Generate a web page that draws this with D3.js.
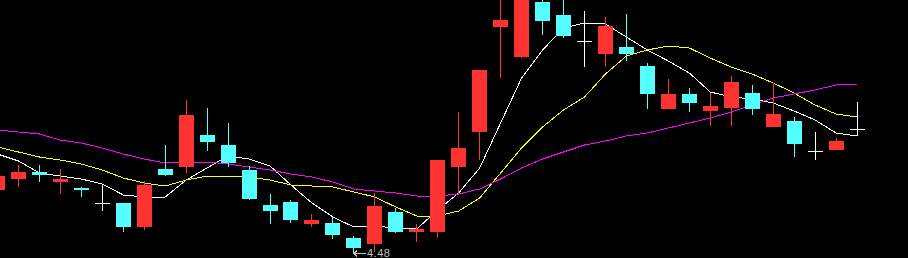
<!DOCTYPE html>
<html>
<head>
<meta charset="utf-8">
<script src="https://cdn.jsdelivr.net/npm/d3@7"></script>
<style>
    html, body { margin: 0; padding: 0; background: #000; overflow: hidden; }
    #kline { width: 908px; height: 258px; }
</style>
</head>
<body>
<div id="kline"></div>
<script>

// daily bars, oldest first
const opens  = [4.795, 4.85, 4.885, 4.835, 4.805, 4.73, 4.73, 4.61, 4.9, 4.91, 5.07, 5.02, 4.895, 4.72, 4.735, 4.625, 4.63, 4.555, 4.525, 4.685, 4.585,
                4.585, 4.91, 5.085, 5.61, 5.46, 5.735, 5.67, 5.54, 5.475, 5.51, 5.415, 5.2, 5.275, 5.19, 5.205, 5.28, 5.11, 5.14, 4.99, 4.995, 5.1];
const highs  = [4.885, 4.92, 4.92, 4.9, 4.81, 4.825, 4.73, 4.84, 5.02, 5.245, 5.205, 5.13, 4.915, 4.775, 4.745, 4.675, 4.66, 4.565, 4.78, 4.705, 4.625,
                4.945, 5.185, 5.395, 5.755, 5.775, 5.76, 5.755, 5.69, 5.66, 5.675, 5.43, 5.35, 5.305, 5.28, 5.365, 5.32, 5.33, 5.16, 5.085, 5.055, 5.235];
const lows   = [4.78, 4.81, 4.835, 4.775, 4.76, 4.69, 4.585, 4.595, 4.865, 4.88, 4.99, 4.91, 4.745, 4.625, 4.63, 4.61, 4.55, 4.48, 4.485, 4.58, 4.535,
                4.555, 4.77, 4.945, 5.355, 5.455, 5.57, 5.555, 5.41, 5.41, 5.44, 5.2, 5.2, 5.185, 5.115, 5.115, 5.17, 5.11, 4.96, 4.945, 4.995, 5.065];
const closes = [4.865, 4.885, 4.87, 4.85, 4.795, 4.73, 4.61, 4.82, 4.87, 5.17, 5.035, 4.93, 4.75, 4.69, 4.645, 4.645, 4.57, 4.505, 4.715, 4.585, 4.6,
                4.945, 5.005, 5.395, 5.645, 5.76, 5.64, 5.565, 5.54, 5.615, 5.475, 5.275, 5.275, 5.23, 5.215, 5.335, 5.2, 5.175, 5.025, 4.99, 5.04, 5.1];

// moving averages as shown on the chart
const ma5  = [4.975, 4.94, 4.88, 4.865, 4.85, 4.825, 4.77, 4.76, 4.76, 4.845, 4.905, 4.965, 4.95, 4.915, 4.82, 4.73, 4.66, 4.61, 4.615, 4.605, 4.6,
              4.695, 4.78, 4.905, 5.13, 5.355, 5.495, 5.605, 5.63, 5.625, 5.56, 5.495, 5.44, 5.38, 5.285, 5.26, 5.25, 5.23, 5.19, 5.145, 5.08, 5.065];
const ma10 = [5.01, 4.985, 4.96, 4.945, 4.925, 4.895, 4.855, 4.83, 4.815, 4.845, 4.865, 4.865, 4.86, 4.845, 4.82, 4.815, 4.81, 4.785, 4.76, 4.71, 4.665,
              4.665, 4.69, 4.755, 4.88, 5.005, 5.11, 5.195, 5.26, 5.375, 5.465, 5.495, 5.515, 5.505, 5.455, 5.41, 5.375, 5.33, 5.28, 5.22, 5.175, 5.16];
const ma20 = [5.095, 5.085, 5.075, 5.045, 5.03, 5.005, 4.975, 4.95, 4.93, 4.935, 4.935, 4.925, 4.91, 4.895, 4.875, 4.86, 4.835, 4.8, 4.79, 4.78, 4.765,
              4.765, 4.775, 4.8, 4.85, 4.905, 4.95, 4.985, 5.02, 5.04, 5.065, 5.08, 5.105, 5.13, 5.155, 5.185, 5.22, 5.255, 5.275, 5.295, 5.32, 5.325];

const priceDomain = [4.455, 5.745];

class KLineChart {

    constructor(parentElement) {
        this.parentElement = parentElement;
        this.colors = {up: "#ff3232", down: "#54ffff", flat: "#ffffff"};
        this.initVis();
    }

    initVis() {
        let vis = this;

        vis.width = 908;
        vis.height = 258;

        vis.svg = d3.select("#" + vis.parentElement).append("svg")
            .attr("width", vis.width)
            .attr("height", vis.height)
            .style("display", "block")
            .style("background", "#000");

        // candle centres run a little past the left edge
        vis.x = d3.scalePoint()
            .range([-2.5, 857]);

        vis.y = d3.scaleLinear()
            .domain(priceDomain)
            .range([vis.height, 0]);

        vis.maLayer = vis.svg.append("g").attr("class", "ma");
        vis.candleLayer = vis.svg.append("g").attr("class", "candles");
        vis.labelLayer = vis.svg.append("g").attr("class", "labels");

        vis.wrangleData();
    }

    wrangleData() {
        let vis = this;

        vis.displayData = opens.map((o, i) => ({
            i: i,
            open: o,
            high: highs[i],
            low: lows[i],
            close: closes[i]
        }));

        vis.maData = [
            {key: "ma5", values: ma5, color: "#ffffff"},
            {key: "ma10", values: ma10, color: "#ffff00"},
            {key: "ma20", values: ma20, color: "#ff00ff"}
        ];

        vis.lowest = d3.least(vis.displayData, d => d.low);

        vis.updateVis();
    }

    updateVis() {
        let vis = this;

        vis.x.domain(vis.displayData.map(d => d.i));
        let bodyW = 15;
        let cx = i => vis.x(i);
        let colorOf = d => d.close > d.open ? vis.colors.up : (d.close < d.open ? vis.colors.down : vis.colors.flat);

        // moving average lines
        let line = d3.line()
            .x((v, i) => cx(i))
            .y(v => vis.y(v));

        vis.maLayer.selectAll("path")
            .data(vis.maData)
            .join("path")
            .attr("d", d => line(d.values))
            .attr("fill", "none")
            .attr("stroke", d => d.color)
            .attr("stroke-width", 1)
            .attr("shape-rendering", "crispEdges");

        let candles = vis.candleLayer.selectAll(".candle")
            .data(vis.displayData)
            .join("g")
            .attr("class", "candle");

        candles.append("line")
            .attr("x1", d => Math.floor(cx(d.i)) + 0.5)
            .attr("x2", d => Math.floor(cx(d.i)) + 0.5)
            .attr("y1", d => vis.y(d.high))
            .attr("y2", d => vis.y(d.low))
            .attr("stroke", colorOf)
            .attr("shape-rendering", "crispEdges");

        candles.filter(d => d.open !== d.close)
            .append("rect")
            .attr("x", d => Math.round(cx(d.i) - bodyW / 2))
            .attr("width", bodyW)
            .attr("y", d => Math.round(vis.y(Math.max(d.open, d.close))))
            .attr("height", d => Math.max(1, Math.round(Math.abs(vis.y(d.open) - vis.y(d.close)))))
            .attr("fill", colorOf)
            .attr("shape-rendering", "crispEdges");

        // doji: flat cross
        candles.filter(d => d.open === d.close)
            .append("line")
            .attr("x1", d => Math.round(cx(d.i) - bodyW / 2))
            .attr("x2", d => Math.round(cx(d.i) + bodyW / 2))
            .attr("y1", d => Math.round(vis.y(d.close)) + 0.5)
            .attr("y2", d => Math.round(vis.y(d.close)) + 0.5)
            .attr("stroke", vis.colors.flat)
            .attr("shape-rendering", "crispEdges");

        // lowest price marker: arrow pointing at the low, then the price
        let lx = Math.floor(cx(vis.lowest.i)) + 1;
        let ly = Math.round(vis.y(vis.lowest.low)) + 0.5;

        vis.labelLayer.append("path")
            .attr("d", `M${lx + 12},${ly}H${lx}M${lx + 3},${ly - 3}L${lx},${ly}L${lx + 3},${ly + 3}`)
            .attr("fill", "none")
            .attr("stroke", "#c0c0c0")
            .attr("shape-rendering", "crispEdges");

        vis.labelLayer.append("text")
            .attr("x", lx + 13)
            .attr("y", ly + 3.5)
            .attr("fill", "#c0c0c0")
            .attr("letter-spacing", "0.5")
            .style("font-family", "Liberation Sans, Arial, sans-serif")
            .style("font-size", "11px")
            .text(vis.lowest.low.toFixed(2));
    }
}

new KLineChart("kline");
</script>
</body>
</html>
